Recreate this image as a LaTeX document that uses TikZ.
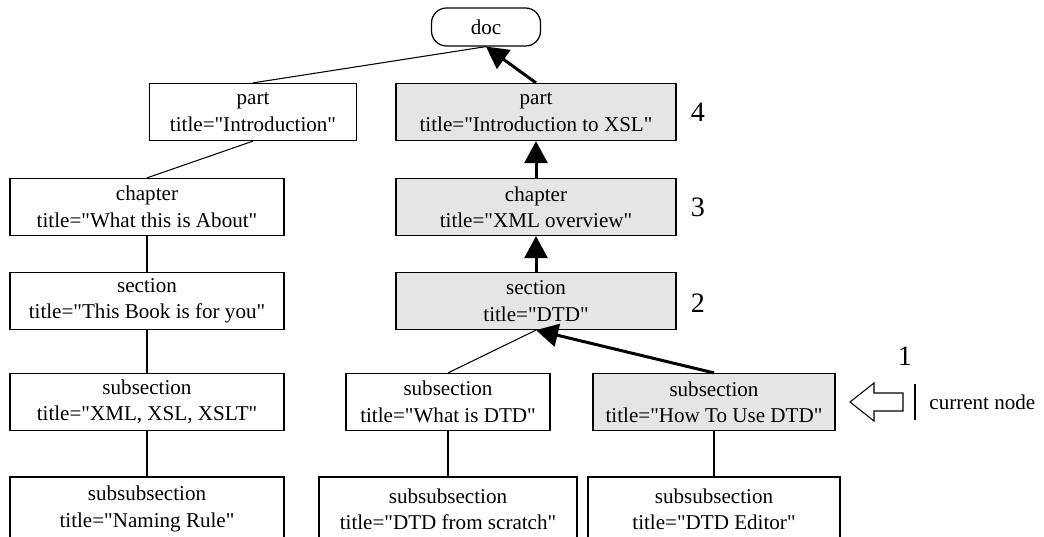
\documentclass[tikz,border=0pt]{standalone}
\usepackage{fontspec}
\setmainfont{Liberation Serif}[Ligatures=TeXOff]
\usetikzlibrary{arrows.meta}

\begin{document}
\begin{tikzpicture}[x=0.02cm,y=-0.02cm,
    elem/.style={draw,line width=0.7pt,align=center,inner sep=2pt,minimum height=1.14cm},
    hit/.style={elem,fill=black!10},
    up/.style={line width=1.7pt,-{Triangle[length=0.44cm,width=0.46cm]}},
    link/.style={line width=0.6pt},
    num/.style={font=\fontsize{16}{18}\selectfont}]
  \fontsize{12}{15}\selectfont
  \useasboundingbox (0,0) rectangle (1044,537);

  \node[draw,line width=0.7pt,rounded corners=0.3cm,minimum width=2.18cm,minimum height=0.76cm] (doc) at (486,27) {doc};

  % left branch
  \node[elem,minimum width=4.14cm] (intro) at (253,112) {part\\title="Introduction"};
  \node[elem,minimum width=5.48cm] (about) at (147,207) {chapter\\title="What this is About"};
  \node[elem,minimum width=5.48cm] (book) at (147,301) {section\\title="This Book is for you"};
  \node[elem,minimum width=5.48cm] (xmlxsl) at (147,402) {subsection\\title="XML, XSL, XSLT"};
  \node[elem,minimum width=5.48cm,minimum height=1.28cm] (naming) at (147,509) {subsubsection\\title="Naming Rule"};

  % path to the current node
  \node[hit,minimum width=5.6cm] (xsl) at (536,112) {part\\title="Introduction to XSL"};
  \node[hit,minimum width=5.6cm] (overview) at (536,207) {chapter\\title="XML overview"};
  \node[hit,minimum width=5.6cm] (dtd) at (536,301) {section\\title="DTD"};
  \node[elem,minimum width=4.08cm] (whatdtd) at (448,402) {subsection\\title="What is DTD"};
  \node[hit,minimum width=4.84cm] (howdtd) at (714,402) {subsection\\title="How To Use DTD"};
  \node[elem,minimum width=5.16cm,minimum height=1.28cm] (scratch) at (448,509) {subsubsection\\title="DTD from scratch"};
  \node[elem,minimum width=5.04cm,minimum height=1.28cm] (editor) at (714,509) {subsubsection\\title="DTD Editor"};

  \node[num] (n4) at (698,112) {4};
  \node[num] (n3) at (698,207) {3};
  \node[num] (n2) at (698,303) {2};
  \node[num] (n1) at (905,356) {1};

  \draw[link] (intro.north) -- (doc.south);
  \draw[link] (intro.south) -- (about.north);
  \draw[link] (about) -- (book);
  \draw[link] (book) -- (xmlxsl);
  \draw[link] (xmlxsl) -- (naming);
  \draw[link] (whatdtd.north) -- (dtd.south);
  \draw[link] (whatdtd) -- (scratch);
  \draw[link] (howdtd) -- (editor);

  \draw[up] (xsl.north) -- (doc.south);
  \draw[up] (overview) -- (xsl);
  \draw[up] (dtd) -- (overview);
  \draw[up] (howdtd.north) -- (dtd.south);

  % current node marker
  \draw[link] (850,402) -- (874,383) -- (874,393) -- (903,393) -- (903,411) -- (874,411) -- (874,421) -- cycle;
  \coordinate (bartop) at (915,384);
  \coordinate (barbot) at (915,420);
  \draw[link] (bartop) -- (barbot);
  \node[anchor=west] (cur) at (922,402) {current node};
\end{tikzpicture}
\end{document}
